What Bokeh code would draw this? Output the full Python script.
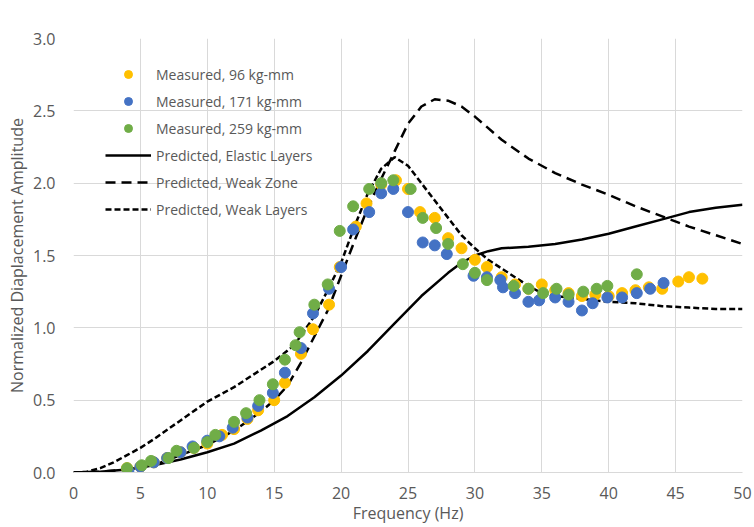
from bokeh.plotting import figure
from bokeh.models import (FixedTicker, PrintfTickFormatter, Legend, LegendItem,
                          Range1d, BoxAnnotation)
from bokeh.embed import file_html
from bokeh.resources import INLINE

# ---------------- data ----------------
f96 = [4, 5, 6, 7, 8, 9, 10, 11.1, 12, 13, 13.8, 15, 15.8, 17, 17.9, 19.1, 19.9,
       21.1, 21.9, 23, 24.1, 25, 25.9, 27, 28, 29, 30, 30.9, 32, 33, 34, 35, 36,
       37, 38, 39, 40, 41, 42, 43, 44, 45.2, 46, 47]
v96 = [0.03, 0.04, 0.07, 0.10, 0.14, 0.17, 0.20, 0.26, 0.30, 0.37, 0.43, 0.50,
       0.62, 0.82, 0.99, 1.16, 1.42, 1.70, 1.86, 1.99, 2.02, 1.96, 1.80, 1.76,
       1.62, 1.55, 1.47, 1.42, 1.35, 1.30, 1.27, 1.30, 1.26, 1.24, 1.22, 1.23,
       1.22, 1.24, 1.26, 1.28, 1.27, 1.32, 1.35, 1.34]

f171 = [4.1, 5, 6, 7, 8, 8.9, 10, 10.9, 11.9, 13, 13.8, 14.9, 15.8, 17, 17.9,
        19.1, 20, 20.9, 22.1, 23, 23.9, 25, 26.1, 27, 27.9, 29.9, 30.9, 31.9,
        32.1, 33, 34, 34.8, 36, 37, 38, 38.8, 39.9, 41, 42.1, 43.1, 44.1]
v171 = [0.01, 0.04, 0.07, 0.10, 0.14, 0.18, 0.22, 0.25, 0.31, 0.38, 0.46, 0.55,
        0.69, 0.86, 1.10, 1.27, 1.42, 1.68, 1.80, 1.93, 1.96, 1.80, 1.59, 1.57,
        1.51, 1.36, 1.35, 1.33, 1.28, 1.24, 1.18, 1.19, 1.21, 1.18, 1.12, 1.17,
        1.21, 1.21, 1.24, 1.27, 1.31]

f259 = [4, 5.1, 5.8, 7.1, 7.7, 9, 10, 10.6, 12, 12.9, 13.9, 14.9, 15.8, 16.6,
        16.9, 18, 19, 19.9, 20.9, 22.1, 23, 23.9, 25.2, 26.1, 27.1, 28, 29.1,
        30, 30.9, 32.9, 34, 35.1, 36.1, 37, 38.1, 39.1, 39.9, 42.1]
v259 = [0.03, 0.05, 0.08, 0.10, 0.15, 0.17, 0.21, 0.26, 0.35, 0.41, 0.50, 0.61,
        0.78, 0.88, 0.97, 1.16, 1.30, 1.67, 1.84, 1.96, 2.00, 2.02, 1.96, 1.76,
        1.69, 1.58, 1.44, 1.38, 1.33, 1.29, 1.27, 1.24, 1.27, 1.23, 1.25, 1.27,
        1.29, 1.37]

f_elastic = [0, 2, 4, 5, 6, 8, 10, 12, 14, 16, 18, 20, 22, 24, 26, 28, 29, 30,
             31, 32, 34, 36, 38, 40, 42, 44, 46, 48, 50]
v_elastic = [0, 0.005, 0.02, 0.035, 0.05, 0.09, 0.14, 0.20, 0.29, 0.39, 0.52,
             0.67, 0.84, 1.03, 1.22, 1.38, 1.45, 1.50, 1.53, 1.55, 1.56, 1.58,
             1.61, 1.65, 1.70, 1.75, 1.80, 1.83, 1.85]

f_zone = [0, 2, 4, 5, 6, 8, 10, 12, 14, 15, 16, 17, 18, 19, 20, 21, 22, 23, 24,
          25, 26, 27, 28, 29, 30, 32, 34, 36, 38, 40, 42, 44, 46, 48, 50]
v_zone = [0, 0.005, 0.02, 0.035, 0.05, 0.12, 0.19, 0.29, 0.42, 0.50, 0.60, 0.76,
          0.94, 1.12, 1.36, 1.60, 1.83, 2.03, 2.22, 2.41, 2.53, 2.58, 2.57, 2.53,
          2.46, 2.30, 2.17, 2.07, 1.99, 1.92, 1.84, 1.77, 1.70, 1.64, 1.58]

f_layers = [0, 1, 2, 3, 4, 5, 6, 8, 10, 12, 13.5, 15, 16.5, 18, 19, 20, 21, 22,
            23, 24, 25, 26, 27, 28, 29, 30, 31, 32, 33, 34, 35, 36, 38, 40, 42,
            44, 46, 48, 50]
v_layers = [0, 0.005, 0.03, 0.07, 0.12, 0.17, 0.23, 0.36, 0.49, 0.59, 0.68,
            0.77, 0.88, 1.08, 1.26, 1.45, 1.70, 1.93, 2.10, 2.18, 2.12, 2.00,
            1.88, 1.76, 1.64, 1.55, 1.47, 1.41, 1.35, 1.29, 1.24, 1.22, 1.20,
            1.18, 1.17, 1.15, 1.14, 1.13, 1.13]

x_ticks = [0, 5, 10, 15, 20, 25, 30, 35, 40, 45, 50]
y_ticks = [0, 0.5, 1.0, 1.5, 2.0, 2.5, 3.0]

# ---------------- figure ----------------
FONT = "Open Sans"
TXT = "#595959"
GRID = "#d9d9d9"

p = figure(width=754, height=527, output_backend="svg", toolbar_location=None,
           x_range=Range1d(0, 50), y_range=Range1d(0, 3),
           min_border_left=73, min_border_right=12, min_border_top=38,
           min_border_bottom=55)
p.outline_line_color = None
p.background_fill_color = "white"
p.border_fill_color = "white"

for ax in (p.xaxis[0], p.yaxis[0]):
    ax.major_tick_line_color = None
    ax.minor_tick_line_color = None
    ax.major_label_text_font = FONT
    ax.major_label_text_font_size = "16px"
    ax.major_label_text_color = TXT
    ax.axis_label_text_font = FONT
    ax.axis_label_text_font_size = "16px"
    ax.axis_label_text_color = TXT
    ax.axis_label_text_font_style = "normal"

p.xaxis.ticker = FixedTicker(ticks=x_ticks)
p.yaxis.ticker = FixedTicker(ticks=y_ticks)
p.yaxis.formatter = PrintfTickFormatter(format="%.1f")
p.xaxis.axis_label = "Frequency (Hz)"
p.yaxis.axis_label = "Normalized Diaplacement Amplitude"
p.xaxis.axis_line_color = GRID
p.yaxis.axis_line_color = None
p.xaxis.major_label_standoff = 8
p.yaxis.major_label_standoff = 12
p.xaxis.axis_label_standoff = 0
p.yaxis.axis_label_standoff = 2

p.xgrid.grid_line_color = GRID
p.ygrid.grid_line_color = GRID
p.xgrid.ticker = FixedTicker(ticks=x_ticks)
p.ygrid.ticker = FixedTicker(ticks=y_ticks)

# lines (drawn beneath points)
r_el = p.line(f_elastic, v_elastic, line_color="black", line_width=2.5)
r_wz = p.line(f_zone, v_zone, line_color="black", line_width=2.5, line_dash="10 6")
r_wl = p.line(f_layers, v_layers, line_color="black", line_width=2.5, line_dash="6 3")

r96 = p.scatter(f96, v96, size=11, fill_color="#FFC000", line_color="#FFC000")
r171 = p.scatter(f171, v171, size=11, fill_color="#4472C4", line_color="#4472C4")
r259 = p.scatter(f259, v259, size=11, fill_color="#70AD47", line_color="#70AD47")

legend = Legend(items=[
    LegendItem(label="Measured, 96 kg-mm", renderers=[r96]),
    LegendItem(label="Measured, 171 kg-mm", renderers=[r171]),
    LegendItem(label="Measured, 259 kg-mm", renderers=[r259]),
    LegendItem(label="Predicted, Elastic Layers", renderers=[r_el]),
    LegendItem(label="Predicted, Weak Zone", renderers=[r_wz]),
    LegendItem(label="Predicted, Weak Layers", renderers=[r_wl]),
], location=(32, 253))
legend.border_line_color = None
legend.background_fill_alpha = 0
legend.padding = 0
legend.margin = 0
legend.spacing = 7
legend.glyph_width = 46
legend.glyph_height = 20
legend.label_height = 20
legend.label_standoff = 5
legend.label_text_font = FONT
legend.label_text_font_size = "14px"
legend.label_text_color = TXT
p.add_layout(legend, "center")

# faint chart-area border
p.add_layout(BoxAnnotation(left=-65, right=678, bottom=-52, top=467,
                           left_units="screen", right_units="screen",
                           top_units="screen", bottom_units="screen",
                           fill_alpha=0, line_color=GRID, line_width=1,
                           level="underlay"))

open("out.html", "w").write(file_html(p, INLINE))
